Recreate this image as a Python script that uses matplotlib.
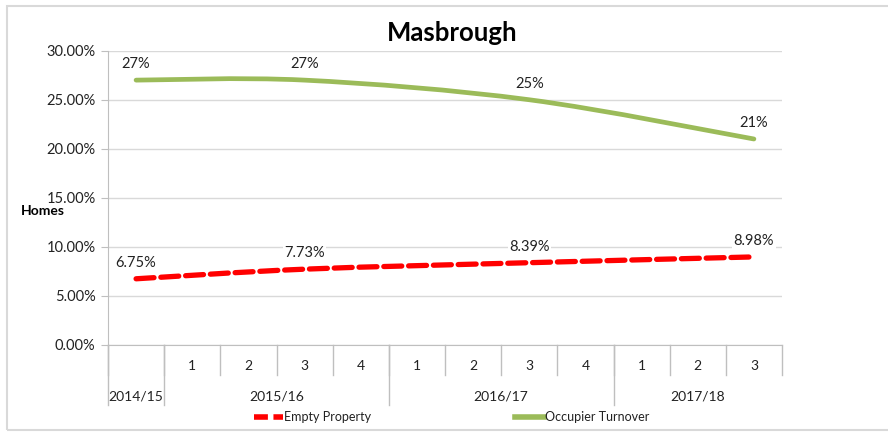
import matplotlib
matplotlib.use("Agg")
import matplotlib.pyplot as plt
from matplotlib.path import Path
from matplotlib.patches import PathPatch, Rectangle
from matplotlib.lines import Line2D
import matplotlib.transforms as mtransforms
from matplotlib.ticker import FuncFormatter

plt.rcParams['font.family'] = ['Lato', 'DejaVu Sans']

# category axis: 12 slots, grouped by financial year
quarters = ["", "1", "2", "3", "4", "1", "2", "3", "4", "1", "2", "3"]
years = ["2014/15", "2015/16", "2016/17", "2017/18"]
year_spans = [(0, 0), (1, 4), (5, 8), (9, 11)]

# series (index of slot, value in %)
point_idx = [0, 3, 7, 11]
empty_property = [6.75, 7.73, 8.39, 8.98]
empty_labels = ["6.75%", "7.73%", "8.39%", "8.98%"]
occupier_turnover = [27, 27, 25, 21]
occupier_labels = ["27%", "27%", "25%", "21%"]

GREEN = "#9BBB59"
RED = "#FF0000"
GRID = "#D9D9D9"
AXIS = "#BFBFBF"


def smooth_path(xs, ys):
    # Excel style smoothed line: cubic bezier segments through every point
    pts = list(zip(xs, ys))
    n = len(pts)
    verts = [pts[0]]
    codes = [Path.MOVETO]
    for i in range(n - 1):
        p0 = pts[i - 1] if i > 0 else pts[i]
        p1 = pts[i]
        p2 = pts[i + 1]
        p3 = pts[i + 2] if i + 2 < n else pts[i + 1]
        c1 = (p1[0] + (p2[0] - p0[0]) / 6, p1[1] + (p2[1] - p0[1]) / 6)
        c2 = (p2[0] - (p3[0] - p1[0]) / 6, p2[1] - (p3[1] - p1[1]) / 6)
        verts += [c1, c2, p2]
        codes += [Path.CURVE4] * 3
    return Path(verts, codes)


fig = plt.figure(figsize=(8.88, 4.32), dpi=100)
ax = fig.add_axes([108 / 888, 1 - 345 / 432, (782 - 108) / 888, (345 - 50.7) / 432])

ax.set_xlim(-0.5, 11.5)
ax.set_ylim(0, 30)
ax.set_yticks(range(0, 31, 5))
ax.yaxis.set_major_formatter(FuncFormatter(lambda v, p: "%.2f%%" % v))
ax.tick_params(axis='y', length=5, color=AXIS, pad=4, labelsize=10.5, labelcolor="#222222")
ax.set_xticks([])
ax.grid(axis='y', color=GRID, linewidth=1)
ax.set_axisbelow(True)
for s in ["top", "right"]:
    ax.spines[s].set_visible(False)
ax.spines["left"].set_color(AXIS)
ax.spines["bottom"].set_color(AXIS)

# lines
red = PathPatch(smooth_path(point_idx, empty_property), facecolor="none", edgecolor=RED,
                linewidth=3.8, linestyle=(0, (3.4, 1.3)), capstyle="round", zorder=3)
ax.add_patch(red)
green = PathPatch(smooth_path(point_idx, occupier_turnover), facecolor="none", edgecolor=GREEN,
                  linewidth=3.4, capstyle="round", zorder=3)
ax.add_patch(green)

for x, v, lab in zip(point_idx, occupier_turnover, occupier_labels):
    ax.annotate(lab, (x, v), xytext=(0, 11.5), textcoords="offset points", ha="center", va="center",
                fontsize=10.5, color="#222222", zorder=4,
                bbox=dict(facecolor="white", edgecolor="none", pad=1))
for x, v, lab in zip(point_idx, empty_property, empty_labels):
    ax.annotate(lab, (x, v), xytext=(0, 11.5), textcoords="offset points", ha="center", va="center",
                fontsize=10.5, color="#222222", zorder=4,
                bbox=dict(facecolor="white", edgecolor="none", pad=1))

# multi level category axis
trans = mtransforms.blended_transform_factory(ax.transData, ax.transAxes)
inner_y = -30 / 294.3
outer_y = -60 / 294.3
for k in range(len(quarters) + 1):
    ax.plot([k - 0.5, k - 0.5], [0, inner_y], color=AXIS, linewidth=1, transform=trans, clip_on=False)
for a, b in year_spans:
    ax.plot([a - 0.5, a - 0.5], [0, outer_y], color=AXIS, linewidth=1, transform=trans, clip_on=False)
for i, q in enumerate(quarters):
    ax.text(i, -21 / 294.3, q, transform=trans, ha="center", va="center", fontsize=10, color="#222222")
for (a, b), yr in zip(year_spans, years):
    ax.text((a + b) / 2, -51 / 294.3, yr, transform=trans, ha="center", va="center", fontsize=10,
            color="#222222")

fig.text(452 / 888, 1 - 33 / 432, "Masbrough", ha="center", va="center", fontsize=18.5, fontweight="bold")
fig.text(43 / 888, 1 - 211 / 432, "Homes", ha="center", va="center", fontsize=10, fontweight="bold")

handles = [Line2D([], [], color=RED, linewidth=4, linestyle=(0, (2.5, 1))),
           Line2D([], [], color=GREEN, linewidth=4)]
fig.legend(handles, ["Empty Property", "Occupier Turnover"], loc="center",
           bbox_to_anchor=(452 / 888, 1 - 417 / 432), ncol=2, frameon=False, fontsize=9,
           handlelength=2.3, handletextpad=0.1, columnspacing=11.5, labelcolor="#222222")

fig.patches.append(Rectangle((7 / 888, 2 / 432), 1.0, 424 / 432, transform=fig.transFigure,
                             facecolor="none", edgecolor=GRID, linewidth=1.5))

fig.savefig("out.png", dpi=100)
